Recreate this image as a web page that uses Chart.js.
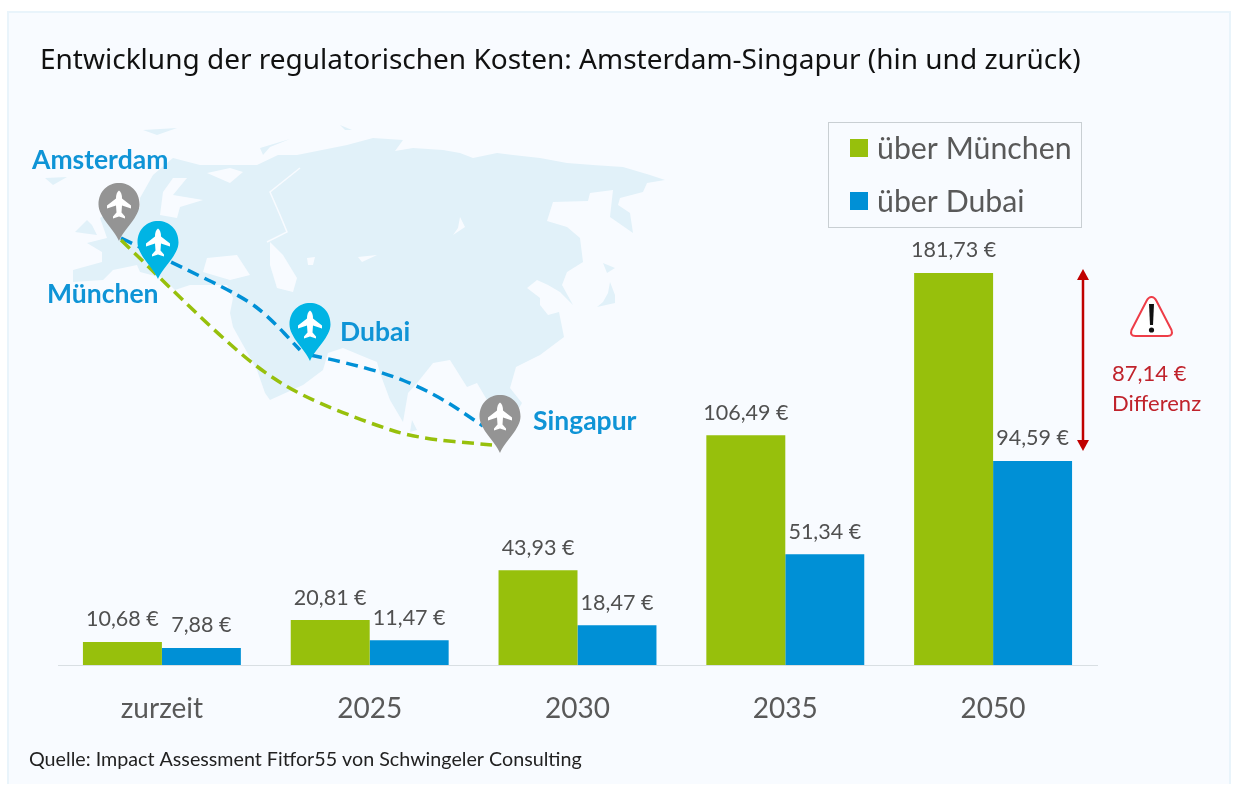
<!DOCTYPE html>
<html lang="de">
<head>
<meta charset="utf-8">
<title>Regulatorische Kosten</title>
<script src="https://cdn.jsdelivr.net/npm/chart.js@4/dist/chart.umd.min.js"></script>
<style>
  html, body { margin: 0; padding: 0; background: #fff; }
  canvas { display: block; }
</style>
</head>
<body>
<canvas id="chart" width="1233" height="785"></canvas>
<script>
// data
const categories = ['zurzeit', '2025', '2030', '2035', '2050'];
const viaMunich = [10.68, 20.81, 43.93, 106.49, 181.73];
const viaDubai = [7.88, 11.47, 18.47, 51.34, 94.59];
const seriesNames = ['über München', 'über Dubai'];
const difference = 87.14;

const GREEN = '#97c00c';
const BLUE = '#0090d6';
const GREY_TEXT = '#595959';
const LABEL_BLUE = '#0f94d6';
const RED = '#c00000';
const LAND = '#e1f1f9';
const PANEL = '#f8fbff';

// map outline (decoration only)
const eurasia = [
  [73,282],[73,270],[102,262],[102,252],[87,243],[107,238],[100,218],[120,205],[140,208],[140,198],
  [153,175],[173,158],[200,165],[233,165],[257,165],[278,155],[297,155],[322,150],[347,145],[373,138],
  [403,140],[395,151],[413,148],[443,150],[460,153],[473,158],[497,153],[513,155],[540,158],[567,163],
  [593,165],[623,167],[650,175],[665,180],[647,183],[643,192],[620,198],[618,205],[630,213],[633,233],
  [610,217],[613,190],[590,193],[588,201],[553,202],[547,221],[567,227],[580,238],[583,262],[567,272],
  [562,285],[573,305],[560,292],[548,285],[537,280],[527,288],[540,298],[540,305],[548,315],[559,312],
  [564,337],[540,355],[516,367],[510,388],[522,403],[512,420],[490,405],[477,383],[467,387],[450,360],
  [433,363],[417,383],[408,393],[403,422],[390,400],[380,373],[377,362],[367,358],[343,348],[328,353],
  [323,370],[303,385],[270,400],[265,393],[257,370],[233,327],[230,313],[233,298],[227,285],[190,285],
  [175,290],[163,278],[140,272],[137,265],[113,270],[103,280]
];
const islands = [
  [[75,232],[87,220],[92,225],[97,235],[82,233]],
  [[45,178],[67,177],[53,185]],
  [[143,130],[177,128],[157,135]],
  [[260,148],[290,139],[270,147],[263,155]],
  [[340,125],[352,130],[345,130]],
  [[610,282],[615,295],[615,303],[597,307],[603,302],[608,293]],
  [[603,263],[615,268],[607,273]],
  [[412,420],[417,430],[410,432]]
];
const holes = [
  [[160,215],[163,192],[173,178],[187,178],[173,195],[203,200],[180,207],[177,218]],
  [[207,173],[230,183],[243,172],[230,168]],
  [[270,242],[283,255],[297,278],[293,292],[277,288],[270,265]],
  [[207,258],[237,255],[250,275],[230,280],[203,272]],
  [[307,258],[315,257],[313,265],[308,265]],
  [[460,217],[465,227],[453,235],[458,228]],
  [[358,257],[377,255],[362,262]]
];
const riverLine = [[300,168],[270,192],[280,215],[287,232],[267,242]];

// flight routes and pins, traced as well
const blueRouteA = [[121,238],[173,263],[243,297],[269,317],[300,350]];
const blueRouteB = [[310,355],[373,368],[434,393],[483,426]];
const greenRoute = [[121,240],[160,278],[217,333],[260,370],[304,397],[369,423],[416,438],[492,445]];
const pins = [
  { x: 119, top: 183, color: '#949494' },
  { x: 158, top: 221, color: '#00b4e4' },
  { x: 310, top: 303, color: '#00b4e4' },
  { x: 500, top: 395, color: '#949494' }
];
const cityLabels = [
  ['Amsterdam', 32, 160], ['München', 47, 294], ['Dubai', 340, 332], ['Singapur', 533, 421]
];

function euro(v) {
  return v.toFixed(2).replace('.', ',') + ' €';
}

function text(ctx, str, x, y, font, color, align) {
  ctx.font = font;
  ctx.fillStyle = color;
  ctx.textAlign = align || 'left';
  ctx.textBaseline = 'middle';
  ctx.fillText(str, x, y);
}

function polygon(ctx, pts) {
  ctx.beginPath();
  pts.forEach((p, i) => {
    if (i === 0) ctx.moveTo(p[0], p[1]);
    else ctx.lineTo(p[0], p[1]);
  });
  ctx.closePath();
  ctx.fill();
}

function route(ctx, pts, color) {
  ctx.save();
  ctx.strokeStyle = color;
  ctx.lineWidth = 3.5;
  ctx.setLineDash([12, 6.5]);
  ctx.beginPath();
  ctx.moveTo(pts[0][0], pts[0][1]);
  for (let i = 1; i < pts.length - 1; i++) {
    const mx = (pts[i][0] + pts[i + 1][0]) / 2;
    const my = (pts[i][1] + pts[i + 1][1]) / 2;
    ctx.quadraticCurveTo(pts[i][0], pts[i][1], mx, my);
  }
  const last = pts[pts.length - 1];
  ctx.lineTo(last[0], last[1]);
  ctx.stroke();
  ctx.restore();
}

function pin(ctx, p) {
  const x = p.x, top = p.top, r = 20.5, tip = top + 58, cy = top + r + 1;
  ctx.fillStyle = p.color;
  ctx.beginPath();
  ctx.moveTo(x, tip);
  ctx.bezierCurveTo(x - 5, tip - 12, x - r, tip - 24, x - r, cy);
  ctx.bezierCurveTo(x - r, top + 8, x - 11, top, x, top);
  ctx.bezierCurveTo(x + 11, top, x + r, top + 8, x + r, cy);
  ctx.bezierCurveTo(x + r, tip - 24, x + 5, tip - 12, x, tip);
  ctx.fill();
  // plane
  ctx.fillStyle = '#fff';
  ctx.beginPath();
  ctx.moveTo(x, cy - 14);
  ctx.quadraticCurveTo(x + 3, cy - 12, x + 3, cy - 6);
  ctx.lineTo(x + 12, cy + 1);
  ctx.lineTo(x + 12, cy + 4);
  ctx.lineTo(x + 3, cy + 1);
  ctx.lineTo(x + 2.5, cy + 8);
  ctx.lineTo(x + 6, cy + 12);
  ctx.lineTo(x + 6, cy + 14);
  ctx.lineTo(x, cy + 12);
  ctx.lineTo(x - 6, cy + 14);
  ctx.lineTo(x - 6, cy + 12);
  ctx.lineTo(x - 2.5, cy + 8);
  ctx.lineTo(x - 3, cy + 1);
  ctx.lineTo(x - 12, cy + 4);
  ctx.lineTo(x - 12, cy + 1);
  ctx.lineTo(x - 3, cy - 6);
  ctx.quadraticCurveTo(x - 3, cy - 12, x, cy - 14);
  ctx.fill();
}

function drawWarning(ctx) {
  const cx = 1151.5;
  ctx.save();
  ctx.strokeStyle = '#ee3d48';
  ctx.fillStyle = '#fff';
  ctx.lineWidth = 2;
  ctx.lineJoin = 'round';
  ctx.beginPath();
  ctx.moveTo(cx, 297);
  ctx.quadraticCurveTo(cx + 3, 297, cx + 5, 301);
  ctx.lineTo(cx + 20, 330);
  ctx.quadraticCurveTo(cx + 22, 336, cx + 16, 336);
  ctx.lineTo(cx - 16, 336);
  ctx.quadraticCurveTo(cx - 22, 336, cx - 20, 330);
  ctx.lineTo(cx - 5, 301);
  ctx.quadraticCurveTo(cx - 3, 297, cx, 297);
  ctx.closePath();
  ctx.fill();
  ctx.stroke();
  ctx.fillStyle = '#111';
  ctx.beginPath();
  ctx.moveTo(cx - 2.5, 304);
  ctx.lineTo(cx + 2.5, 304);
  ctx.lineTo(cx + 1.5, 325);
  ctx.lineTo(cx - 1.5, 325);
  ctx.closePath();
  ctx.fill();
  ctx.beginPath();
  ctx.arc(cx, 330, 2.6, 0, Math.PI * 2);
  ctx.fill();
  ctx.restore();
}

function drawArrow(ctx, x, top, bottom) {
  ctx.save();
  ctx.strokeStyle = RED;
  ctx.fillStyle = RED;
  ctx.lineWidth = 2.5;
  ctx.beginPath();
  ctx.moveTo(x, top + 8);
  ctx.lineTo(x, bottom - 8);
  ctx.stroke();
  ctx.beginPath();
  ctx.moveTo(x, top);
  ctx.lineTo(x + 6, top + 11);
  ctx.lineTo(x - 6, top + 11);
  ctx.closePath();
  ctx.fill();
  ctx.beginPath();
  ctx.moveTo(x, bottom);
  ctx.lineTo(x + 6, bottom - 11);
  ctx.lineTo(x - 6, bottom - 11);
  ctx.closePath();
  ctx.fill();
  ctx.restore();
}

// everything behind the bars: panel, map, routes, title
const backdrop = {
  id: 'backdrop',
  beforeDraw(chart) {
    const ctx = chart.ctx;
    ctx.save();
    ctx.fillStyle = '#fff';
    ctx.fillRect(0, 0, 1233, 785);
    ctx.fillStyle = '#e9f4fb';
    ctx.fillRect(7, 11, 1224, 773);
    ctx.fillStyle = PANEL;
    ctx.fillRect(9, 13, 1220, 771);

    ctx.fillStyle = LAND;
    polygon(ctx, eurasia);
    islands.forEach(s => polygon(ctx, s));
    ctx.fillStyle = PANEL;
    holes.forEach(s => polygon(ctx, s));
    ctx.strokeStyle = PANEL;
    ctx.lineWidth = 1.5;
    ctx.beginPath();
    riverLine.forEach((p, i) => (i ? ctx.lineTo(p[0], p[1]) : ctx.moveTo(p[0], p[1])));
    ctx.stroke();

    route(ctx, blueRouteA, BLUE);
    route(ctx, blueRouteB, BLUE);
    route(ctx, greenRoute, GREEN);
    pins.forEach(p => pin(ctx, p));
    cityLabels.forEach(c => text(ctx, c[0], c[1], c[2], 'bold 26.5px Lato', LABEL_BLUE));

    text(ctx, 'Entwicklung der regulatorischen Kosten: Amsterdam-Singapur (hin und zurück)', 40, 61, '28px "Noto Sans"', '#111');
    text(ctx, 'Quelle: Impact Assessment Fitfor55 von Schwingeler Consulting', 29, 760, '19.7px Lato', '#222');
    ctx.restore();
  },
  afterDatasetsDraw(chart) {
    const ctx = chart.ctx;
    const y = chart.scales.y;
    ctx.save();

    // value labels
    chart.data.datasets.forEach((ds, i) => {
      chart.getDatasetMeta(i).data.forEach((bar, j) => {
        text(ctx, euro(ds.data[j]), bar.x, bar.y - 22.5, '21.5px Lato', '#505050', 'center');
      });
    });

    // legend box
    ctx.strokeStyle = '#c9cfd3';
    ctx.lineWidth = 1;
    ctx.strokeRect(828.5, 122.5, 253, 105);
    seriesNames.forEach((name, i) => {
      const cy = 148 + i * 53;
      ctx.fillStyle = chart.data.datasets[i].backgroundColor;
      ctx.fillRect(850, cy - 9, 18, 18);
      text(ctx, name, 877, cy + 1, '30.3px Lato', GREY_TEXT);
    });

    // difference marker
    const last = viaMunich.length - 1;
    drawArrow(ctx, 1083, y.getPixelForValue(viaMunich[last]) - 4, y.getPixelForValue(viaDubai[last]) - 10);
    drawWarning(ctx);
    text(ctx, euro(difference), 1112, 374, '22px Lato', '#c0232c');
    text(ctx, 'Differenz', 1112, 404, '22px Lato', '#c0232c');
    ctx.restore();
  }
};

new Chart(document.getElementById('chart'), {
  type: 'bar',
  data: {
    labels: categories,
    datasets: [
      { label: seriesNames[0], data: viaMunich, backgroundColor: GREEN },
      { label: seriesNames[1], data: viaDubai, backgroundColor: BLUE }
    ]
  },
  options: {
    responsive: false,
    animation: false,
    layout: { padding: { left: 58, right: 136, top: 233.6, bottom: 0 } },
    datasets: { bar: { barPercentage: 1, categoryPercentage: 0.76 } },
    plugins: { legend: { display: false }, tooltip: { enabled: false } },
    scales: {
      x: {
        afterFit: s => { s.height = 120; },
        grid: { display: false, drawTicks: false },
        border: { color: '#d9dfe3', width: 1 },
        ticks: { color: GREY_TEXT, font: { family: 'Lato', size: 28 }, padding: 27, maxRotation: 0 }
      },
      y: { display: false, min: 0, max: 200 }
    }
  },
  plugins: [backdrop]
});
</script>
</body>
</html>
